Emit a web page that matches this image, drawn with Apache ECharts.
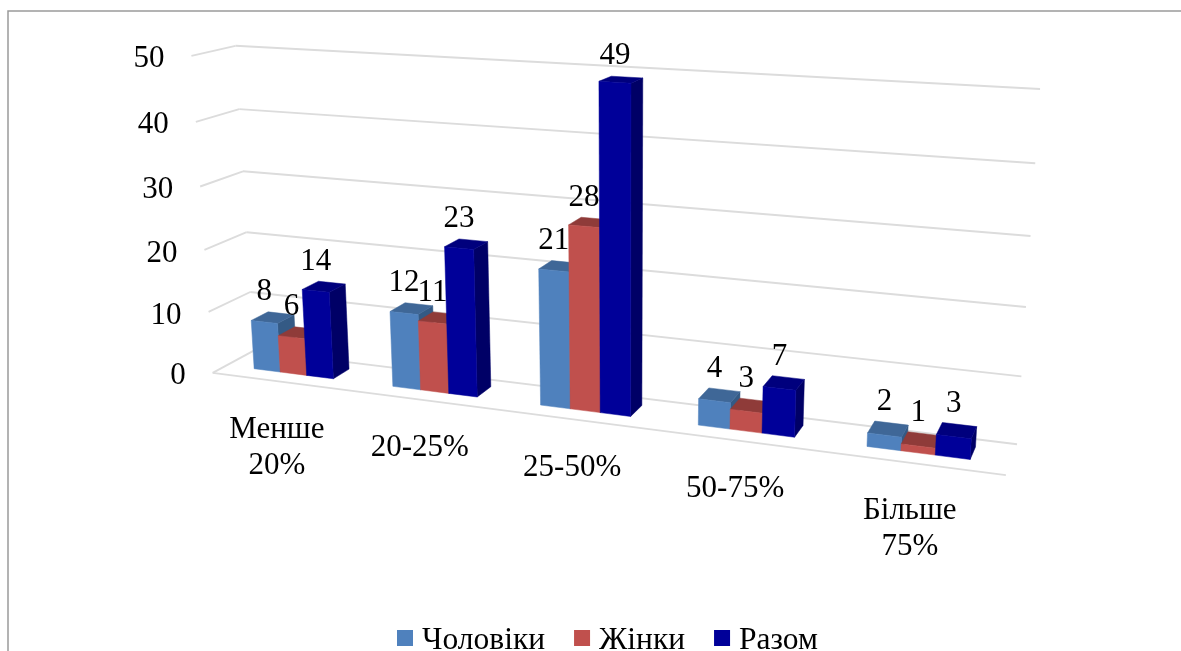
<!DOCTYPE html>
<html>
<head>
<meta charset="utf-8">
<style>html,body{margin:0;padding:0;background:#fff}#chart{width:1181px;height:651px}</style>
<script src="https://cdn.jsdelivr.net/npm/echarts@6/dist/echarts.min.js"></script>
</head>
<body>
<div id="chart"></div>
<script>
// Distribution by share band, three groups
const categories = ['Менше\n20%', '20-25%', '25-50%', '50-75%', 'Більше\n75%'];
const men = [8, 12, 21, 4, 2];
const women = [6, 11, 28, 3, 1];
const total = [14, 23, 49, 7, 3];
const valueTicks = [0, 10, 20, 30, 40, 50];

const FONT = '"Liberation Serif", "Times New Roman", serif';
const FONT_SIZE = 31;
const GRID = { left: 0, top: 0, width: 1000, height: 500 };

// Camera of the 3D scene: box position [across, up, deep] in 0..1 -> page pixels
const cameraAnchors = [
  [0, 0, 0, 213, 373], [0, 0, 1, 253.5, 351], [1, 0, 1, 1017, 444], [1, 0, 0, 1006, 475],
  [0, 1, 0, 191, 56], [0, 1, 1, 236, 46], [1, 1, 1, 1040, 89],
  [0, .2, 0, 209, 312], [0, .4, 0, 204, 249], [0, .6, 0, 200, 187], [0, .8, 0, 196, 122],
  [0, .2, 1, 250, 292], [0, .4, 1, 247, 232], [0, .6, 1, 243, 171], [0, .8, 1, 239, 109],
  [1, .2, 1, 1021, 377], [1, .4, 1, 1026, 307], [1, .6, 1, 1031, 236], [1, .8, 1, 1035, 163]
];

// Least-squares fit of the 11 projection coefficients
function fitCamera(anchors) {
  const n = 11, A = [], b = [];
  for (let i = 0; i < n; i++) { A.push(new Array(n).fill(0)); b.push(0); }
  const add = (row, rhs) => {
    for (let i = 0; i < n; i++) {
      for (let j = 0; j < n; j++) A[i][j] += row[i] * row[j];
      b[i] += row[i] * rhs;
    }
  };
  anchors.forEach(([X, Y, Z, px, py]) => {
    const x = px / 1000, y = py / 1000;
    add([X, Y, Z, 1, 0, 0, 0, 0, -x * X, -x * Y, -x * Z], x);
    add([0, 0, 0, 0, X, Y, Z, 1, -y * X, -y * Y, -y * Z], y);
  });
  for (let c = 0; c < n; c++) {
    let p = c;
    for (let r = c + 1; r < n; r++) if (Math.abs(A[r][c]) > Math.abs(A[p][c])) p = r;
    [A[c], A[p]] = [A[p], A[c]];
    [b[c], b[p]] = [b[p], b[c]];
    for (let r = 0; r < n; r++) {
      if (r === c) continue;
      const f = A[r][c] / A[c][c];
      for (let k = c; k < n; k++) A[r][k] -= f * A[c][k];
      b[r] -= f * b[c];
    }
  }
  return b.map((v, i) => v / A[i][i]);
}
const cam = fitCamera(cameraAnchors);
function project(X, Y, Z) {
  const w = cam[8] * X + cam[9] * Y + cam[10] * Z + 1;
  return [
    1000 * (cam[0] * X + cam[1] * Y + cam[2] * Z + cam[3]) / w,
    1000 * (cam[4] * X + cam[5] * Y + cam[6] * Z + cam[7]) / w
  ];
}

// Axis scale pixel -> box coordinate, so every mark goes through the value and category axes
const toBox = (pt) => [(pt[0] - GRID.left) / GRID.width, (GRID.top + GRID.height - pt[1]) / GRID.height];

function line(a, b) {
  return {
    type: 'line',
    shape: { x1: a[0], y1: a[1], x2: b[0], y2: b[1] },
    style: { stroke: '#dcdcdc', lineWidth: 1.9 },
    z2: 0
  };
}
function label(text, x, y, align, vAlign) {
  return {
    type: 'text',
    z2: 100,
    style: { text, x, y, align, verticalAlign: vAlign, fill: '#000', font: FONT_SIZE + 'px ' + FONT, lineHeight: 36 }
  };
}

// One bar as a prism with front, top and right faces
function barRenderer(slot, front, top, side, order) {
  const BAR = 0.193, GAP = 0.205, Z0 = 1 / 3, Z1 = 0.75;
  return function (params, api) {
    const base = toBox(api.coord([api.value(0), 0]));
    const peak = toBox(api.coord([api.value(0), api.value(1)]));
    const band = api.size([1, 0])[0] / GRID.width;
    const x0 = base[0] - band / 2 + band * (GAP + BAR * slot);
    const x1 = x0 + band * BAR;
    const y0 = 0, y1 = peak[1];
    const face = (pts, fill) => {
      const points = pts.map((p) => project(p[0], p[1], p[2]));
      return { type: 'polygon', z2: order, shape: { points }, style: { fill, stroke: fill, lineWidth: 0.5 } };
    };
    const xc = project((x0 + x1) / 2, y1, Z0)[0];
    const yc = project((x0 + x1) / 2, y1, Z1)[1];
    return {
      type: 'group',
      children: [
        face([[x1, y0, Z0], [x1, y0, Z1], [x1, y1, Z1], [x1, y1, Z0]], side),
        face([[x0, y1, Z0], [x1, y1, Z0], [x1, y1, Z1], [x0, y1, Z1]], top),
        face([[x0, y0, Z0], [x1, y0, Z0], [x1, y1, Z0], [x0, y1, Z0]], front),
        label(String(api.value(1)), xc, yc - 21, 'center', 'middle')
      ]
    };
  };
}

function barData(values) {
  return values.map((v, i) => [i, v]);
}

const chart = echarts.init(document.getElementById('chart'), null, { renderer: 'canvas' });
chart.setOption({
  animation: false,
  backgroundColor: '#fff',
  grid: Object.assign({ containLabel: false }, GRID),
  xAxis: { type: 'category', data: categories, show: false },
  yAxis: { type: 'value', min: 0, max: 50, interval: 10, show: false },
  legend: {
    data: ['Чоловіки', 'Жінки', 'Разом'],
    left: 397,
    top: 625,
    padding: 0,
    // Square swatch sitting at the top of a taller item box, so the text drops below its centre
    icon: 'path://M0,0H16V16H0Z M0,22H0.01V22H0Z',
    itemWidth: 16,
    itemHeight: 22,
    itemGap: 29,
    textStyle: { fontFamily: FONT, fontSize: 31.5, color: '#000', padding: [0, 0, 0, 4] }
  },
  graphic: [
    { type: 'polyline', silent: true, shape: { points: [[8, 651], [8, 11], [1181, 11]] }, style: { fill: 'none', stroke: '#9a9a9a', lineWidth: 1.5 } }
  ],
  series: [
    {
      // Walls and floor of the box, one set of rules per value tick, with its tick label
      type: 'custom',
      name: 'axis',
      coordinateSystem: 'cartesian2d',
      silent: true,
      data: valueTicks.map((t) => [0, t]),
      renderItem(params, api) {
        const y = toBox(api.coord([0, api.value(1)]))[1];
        const fl = project(0, y, 0), bl = project(0, y, 1), br = project(1, y, 1);
        const children = [line(fl, bl), line(bl, br),
          label(String(api.value(1)), fl[0] - 27, fl[1] + 3.5, 'right', 'middle')];
        if (y === 0) children.push(line(fl, project(1, 0, 0)));
        return { type: 'group', children };
      }
    },
    {
      // Category names under the front edge of the floor
      type: 'custom',
      name: 'categories',
      coordinateSystem: 'cartesian2d',
      silent: true,
      data: categories.map((c, i) => [i, 0]),
      renderItem(params, api) {
        const p = toBox(api.coord([api.value(0), 0]));
        const f = project(p[0], 0, 0);
        return label(categories[api.value(0)], f[0] - 4, f[1] + 30, 'center', 'top');
      }
    },
    { type: 'custom', name: 'Чоловіки', coordinateSystem: 'cartesian2d', itemStyle: { color: '#4f81bd' }, data: barData(men), renderItem: barRenderer(0, '#4f81bd', '#3f6797', '#345a85', 1) },
    { type: 'custom', name: 'Жінки', coordinateSystem: 'cartesian2d', itemStyle: { color: '#c0504d' }, data: barData(women), renderItem: barRenderer(1, '#c0504d', '#8f3b39', '#7a3230', 2) },
    { type: 'custom', name: 'Разом', coordinateSystem: 'cartesian2d', itemStyle: { color: '#000099' }, data: barData(total), renderItem: barRenderer(2, '#000099', '#00007d', '#000066', 3) }
  ]
});
</script>
</body>
</html>
